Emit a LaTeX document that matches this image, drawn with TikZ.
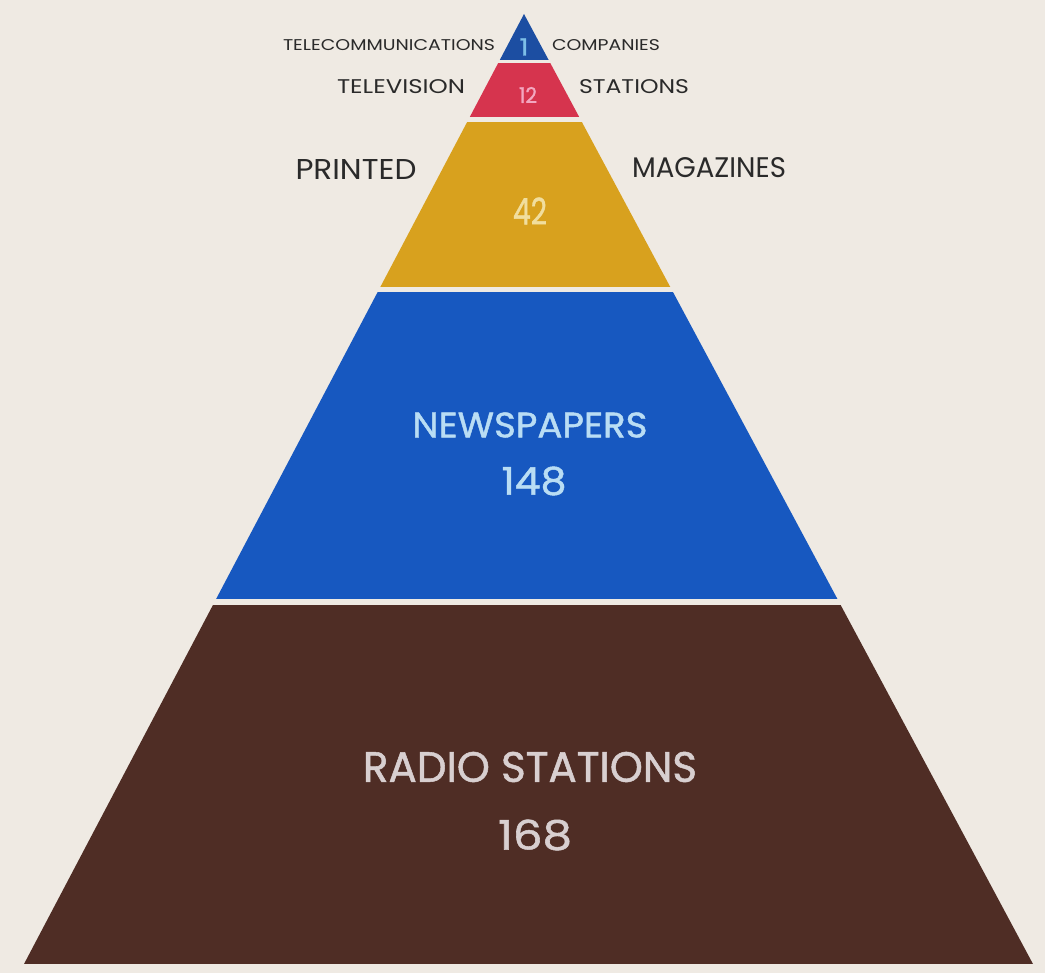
\documentclass[tikz,border=0pt]{standalone}
\usepackage{fontspec}
\setmainfont{Poppins}
\newfontfamily\paintfont[FakeBold=1.2]{Poppins}
\usepackage{graphicx}
\newlength\pxu
\setlength\pxu{0.02cm}
\newcommand\fitbox[3]{\resizebox{#1\pxu}{#2\pxu}{#3}}
\definecolor{paper}{HTML}{EFEAE3}
\definecolor{tipblue}{HTML}{1C4EA2}
\definecolor{redband}{HTML}{D6344E}
\definecolor{yellowband}{HTML}{D8A11E}
\definecolor{blueband}{HTML}{1758C0}
\definecolor{brownband}{HTML}{4F2D25}
\definecolor{ink}{HTML}{2A2A2A}
\definecolor{tiptext}{HTML}{7DBFE8}
\definecolor{redtext}{HTML}{F3A7C0}
\definecolor{yellowtext}{HTML}{F1DE9E}
\definecolor{bluetext}{HTML}{B9DDF4}
\definecolor{browntext}{HTML}{D8CFD0}
\tikzset{
  lbl/.style={inner sep=0pt, outer sep=0pt, text=ink},
  paint/.style={inner sep=0pt, outer sep=0pt, font=\paintfont},
}
\begin{document}
\begin{tikzpicture}[x=0.02cm, y=-0.02cm]
\useasboundingbox (0,0) rectangle (1045,973);
\fill[paper] (0,0) rectangle (1045,973);
\begin{scope}
  \clip (524,14) -- (1033,964) -- (24,964) -- cycle;
  \fill[tipblue]    (0,0)   rectangle (1045,60);
  \fill[redband]    (0,63)  rectangle (1045,117);
  \fill[yellowband] (0,122) rectangle (1045,287);
  \fill[blueband]   (0,292) rectangle (1045,599);
  \fill[brownband]  (0,605) rectangle (1045,964);
\end{scope}
% side labels
\node[lbl] (telecom) at (389,45) {\fitbox{212}{11}{TELECOMMUNICATIONS}};
\node[lbl] (companies) at (606,45) {\fitbox{108}{11}{COMPANIES}};
\node[lbl] (television) at (401,87) {\fitbox{128}{14}{TELEVISION}};
\node[lbl] (tvstations) at (634,87) {\fitbox{110}{14}{STATIONS}};
\node[lbl] (printed) at (356,170) {\fitbox{121}{20}{PRINTED}};
\node[lbl] (magazines) at (709,168) {\fitbox{154}{20}{MAGAZINES}};
% band labels
\node[paint, text=tiptext] (one) at (524,47) {\fitbox{9}{17}{1}};
\node[paint, text=redtext] (twelve) at (528,95) {\fitbox{18}{16}{12}};
\node[paint, text=yellowtext] (fortytwo) at (530,211) {\fitbox{34}{27}{42}};
\node[paint, text=bluetext] (newspapers) at (530,425) {\fitbox{235}{25}{NEWSPAPERS}};
\node[paint, text=bluetext] (n148) at (534,481) {\fitbox{65}{28}{148}};
\node[paint, text=browntext] (radio) at (530,767) {\fitbox{334}{30}{RADIO STATIONS}};
\node[paint, text=browntext] (n168) at (535,835) {\fitbox{74}{30}{168}};
\end{tikzpicture}
\end{document}
